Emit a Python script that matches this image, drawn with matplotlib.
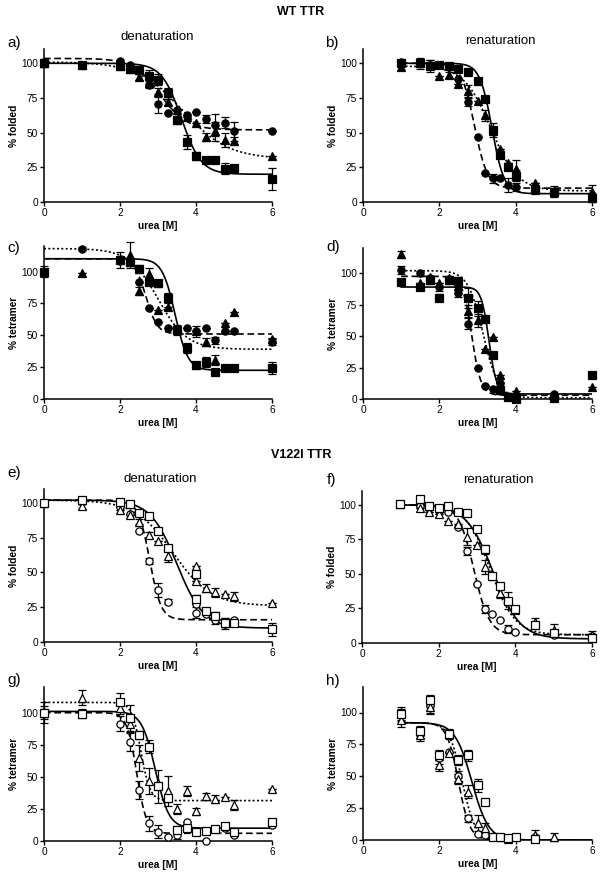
import numpy as np
import matplotlib
matplotlib.use("Agg")
import matplotlib.pyplot as plt

plt.rcParams["font.family"] = ["Liberation Sans", "DejaVu Sans"]

nan = np.nan

# ---- WT TTR, denaturation, % folded (a)
xa = [0, 1, 2, 2.25, 2.5, 2.75, 3, 3.25, 3.5, 3.75, 4, 4.25, 4.5, 4.75, 5, 6]
a_circ = [101, 99, 101.5, 99, 95, 84, 71, 64, 66, 63, 65, 59.6, 55.5, 57, 51, 51.5]
a_circ_err = [0, 0, 1, 0, 0, 2, 7, 0, 0, 0, 0, 3, 8, 4, 7, 0]
a_tri = [100, 99, 98, 96, 90, 86, 79, 72, 66, 61.5, 57, 47, 51, 45, 44, 33.5]
a_tri_err = [0, 0, 0, 0, 2, 3, 3, 2, 0, 0, 0, 3, 7, 5, 3, 0]
a_sq = [100, 98.6, 98, 96, 95, 91, 88, 78.4, 59, 43, 33, 30, 30, 24, 24.5, 16.5]
a_sq_err = [3, 2, 2, 2, 3, 4, 4, 4, 3, 5, 3, 0, 0, 4, 0, 8]

# ---- WT TTR, renaturation, % folded (b)
xb = [1, 1.5, 1.75, 2, 2.25, 2.5, 2.75, 3, 3.2, 3.4, 3.6, 3.8, 4, 4.5, 5, 6]
b_circ = [100.7, 100, 99, 99, 97, 89, 72, 47, 21, 17, 17, 12, 11, 8.7, 6.7, 5]
b_circ_err = [0, 0, 0, 0, 0, 0, 3, 0, 0, 3, 0, 5, 3, 0, 0, 0]
b_tri = [97, 100, 99, 91, 91.5, 85, 80, 72.5, 62.5, 51, 38, 28, 24, 14, 7.5, 7.5]
b_tri_err = [2, 4, 3, 0, 2, 0, 4, 0, 4, 0, 0, 0, 6, 0, 4, 5]
b_sq = [100, 100, 98, 99, 98, 96, 94, 87, 74, 52, 34, 25, 19, 9.6, 7, 3]
b_sq_err = [0, 2, 4, 2, 0, 0, 0, 0, 0, 5, 0, 0, 4, 4, 3, 3]

# ---- WT TTR, denaturation, % tetramer (c)
xc = [0, 1, 2, 2.25, 2.5, 2.75, 3, 3.25, 3.5, 3.75, 4, 4.25, 4.5, 4.75, 5, 6]
c_circ = [100, 118, 108, 108, 92, 71, 60.5, 56, 54, 56, 53, 55.8, 46, 53, 53, 45]
c_circ_err = [0, 1, 0, 0, 0, 0, 0, 0, 0, 0, 4, 0, 3, 0, 0, 3]
c_tri = [100, 99, 110, 113, 84.5, 98, 70, 72, 55, nan, 53, 44.8, 30.6, 60, 68, 47]
c_tri_err = [0, 0, 0, 10, 3, 5, 0, 0, 0, 0, 0, 3, 4, 0, 0, 0]
c_sq = [100, nan, 109, 107.6, 102, 92, 90.6, 79.3, 54, 40, 26.4, 29, 21, 24.3, 24.3, 24.3]
c_sq_err = [4, 0, 6, 3, 3, 0, 3, 4, 4, 4, 3, 4, 0, 2, 0, 5]

# ---- WT TTR, renaturation, % tetramer (d)
xd = [1, 1.5, 1.75, 2, 2.25, 2.5, 2.75, 3, 3.2, 3.4, 3.6, 3.8, 4, 5, 6]
d_circ = [102.4, 100, 96, 89, 95, 84, 60, 25, 10, 8, 13, nan, 0, 4, nan]
d_circ_err = [3, 2, 0, 3, 0, 3, 4, 0, 0, 0, 0, 0, 2, 0, 0]
d_tri = [115, 92, 97, 92, 96, 90, 70, 62.6, 40, 49, 19, nan, 6, nan, 9.5]
d_tri_err = [3, 0, 0, 0, 0, 0, 5, 5, 0, 0, 0, 0, 0, 0, 0]
d_sq = [93, 89, 94.4, 80.6, 94.4, 93.6, 80.6, 72, 63.4, 34.7, 7, 1.6, 0, 0.8, 19]
d_sq_err = [0, 2, 3, 3, 3, 3, 8, 6, 0, 0, 3, 0, 0, 0, 0]

# ---- V122I TTR, denaturation, % folded (e)
xe = [0, 1, 2, 2.25, 2.5, 2.75, 3, 3.25, 4, 4, 4.25, 4.5, 4.75, 5, 6]
e_circ = [100, 101, 96.9, 92, 80, 58.4, 37.5, 29, 27, 21, 20.4, 15.7, 13, 16, nan]
e_circ_err = [0, 0, 0, 0, 0, 2, 5, 2, 0, 4, 0, 3, 4, 0, 0]
e_tri = [100, 97.6, 95, 91, 86.5, 77, 72.7, 61.5, 55, 43.5, 39, 35.6, 34.7, 32.8, 28]
e_tri_err = [0, 2, 0, 0, 2, 2, 0, 4, 0, 0, 3, 3, 0, 3, 0]
e_sq = [100, 102.4, 100.7, 99.5, 93, 90.5, 80, 67.5, 49, 31, 22, 18.5, 14, 13.5, 9]
e_sq_err = [0, 1, 0, 0, 0, 0, 0, 2, 2, 3, 2, 3, 3, 0, 5]

# ---- V122I TTR, renaturation, % folded (f)
xf = [1, 1.5, 1.75, 2, 2.25, 2.5, 2.75, 3, 3.2, 3.4, 3.6, 3.8, 4, 4.5, 5, 6]
f_circ = [100.7, 99.3, 98, 95.7, 95, 83.7, 66.5, 42.6, 24.6, 20.8, 16.7, 10, 7.9, nan, 6, 5]
f_circ_err = [0, 0, 0, 0, 0, 0, 3, 0, 3, 0, 0, 3, 0, 0, 0, 0]
f_tri = [100.7, 98, 94.5, 93.3, 88.5, 86, 77, 70.6, 55, 48.3, 36.4, 30.6, 24, 15, 9.6, 6]
f_tri_err = [0, 0, 0, 0, 0, 0, 6, 0, 5, 0, 4, 6, 0, 3, 4, 3]
f_sq = [100.7, 104, 99.3, 97.6, 99.3, 94.5, 93.8, 82.5, 67.7, 48.6, 41.4, 30.6, 24.4, 13, 7, 3.6]
f_sq_err = [0, 0, 0, 0, 0, 0, 0, 0, 3, 0, 0, 0, 0, 0, 0, 3]

# ---- V122I TTR, denaturation, % tetramer (g)
xg = [0, 1, 2, 2.25, 2.5, 2.75, 3, 3.25, 3.5, 3.75, 4, 4.25, 4.5, 4.75, 5, 6]
g_circ = [100, 100, 91.4, 77.3, 40, 13.8, 7.3, 3, 4.7, 15, 8, 0, 9, 10, 4.7, 12.5]
g_circ_err = [8, 3, 6, 7, 7, 6, 5, 0, 3, 0, 0, 0, 0, 0, 0, 0]
g_tri = [100, 111.7, 104, 91, 64.7, 47, 45, 39, 25, 39, 23, 34.7, 33, 34, 28, 40.5]
g_tri_err = [5, 6, 5, 6, 10, 10, 0, 12, 4, 4, 3, 3, 3, 0, 4, 0]
g_sq = [100, 98.7, 108.6, 95.6, 82.5, 73.4, 42.6, 33.4, 8.6, 10, 7.3, 8, 9.4, 12, 6.8, 14.6]
g_sq_err = [3, 3, 7, 10, 3, 5, 13, 3, 3, 0, 0, 0, 2, 0, 0, 0]

# ---- V122I TTR, renaturation, % tetramer (h)
xh = [1, 1.5, 1.75, 2, 2.25, 2.5, 2.75, 3, 3.2, 3.4, 3.6, 3.8, 4, 4.5, 5]
h_circ = [98, 84, 105, 64, 69, 50.4, 17, 5, 4, 2, 2, 1, nan, 2, nan]
h_circ_err = [5, 4, 5, 4, 0, 4, 3, 0, 0, 0, 0, 0, 0, 0, 0]
h_tri = [94, 82.5, 104, 58.5, 68, 47.8, 38, 13.3, 9.4, 2.9, 2.5, 1, nan, 3.7, 2.6]
h_tri_err = [5, 5, 5, 4, 0, 4, 5, 6, 4, 0, 0, 0, 0, 4, 3]
h_sq = [99, 85.6, 110, 66.8, 83, 63, 66.3, 42.8, 29.8, 2.3, 2.3, 1.6, 2, 0.8, nan]
h_sq_err = [5, 4, 4, 4, 4, 4, 4, 5, 0, 0, 0, 0, 0, 2, 0]

# sigmoid fit parameters: (top, bottom, midpoint, slope)
fit_a = [(103.5, 52, 3.05, 0.35), (101, 31, 3.65, 0.6), (100, 20, 3.62, 0.26)]
fit_b = [(100, 10, 2.92, 0.17), (98, 8, 3.35, 0.35), (100, 6, 3.38, 0.16)]
fit_c = [(110, 51, 2.68, 0.15), (118, 39, 3.0, 0.38), (110, 22.5, 3.45, 0.17)]
fit_d = [(97.5, 3, 2.85, 0.12), (102, 1, 3.15, 0.2), (89, 4, 3.3, 0.1)]
fit_e = [(102, 16, 2.78, 0.15), (102, 26, 3.4, 0.5), (102, 10, 3.5, 0.35)]
fit_f = [(100, 6, 2.92, 0.2), (100, 6, 3.35, 0.32), (100, 3, 3.42, 0.35)]
fit_g = [(100, 6, 2.44, 0.13), (108, 31.5, 2.55, 0.12), (101, 10, 2.93, 0.18)]
fit_h = [(92, 0, 2.5, 0.15), (92, 0, 2.6, 0.17), (92, 0, 2.85, 0.22)]

W, H = 602, 874
fig = plt.figure(figsize=(W / 100, H / 100), dpi=100)

MARKERS = ["o", "^", "s"]
LINES = [(0, (4, 2.2)), (0, (1.2, 1.4)), "-"]


def make_ax(left, bottom_px, width, top_val, height_px):
    ax = fig.add_axes([left / W, 1 - bottom_px / H, width / W, height_px / H])
    ax.set_xlim(0, 6)
    ax.set_ylim(0, top_val)
    for s in ["top", "right"]:
        ax.spines[s].set_visible(False)
    for s in ["left", "bottom"]:
        ax.spines[s].set_linewidth(1.1)
    ax.set_xticks([0, 2, 4, 6])
    ax.set_yticks([0, 25, 50, 75, 100])
    ax.tick_params(direction="out", length=3, width=1, labelsize=7.3, pad=1.5)
    ax.set_xlabel("urea [M]", fontsize=7.3, fontweight="bold", labelpad=2)
    return ax


def draw(ax, x, series, errs, fits, x0, filled, ylabel):
    x = np.array(x, dtype=float)
    for i in range(3):
        top, bot, mid, slope = fits[i]
        xs = np.linspace(x0, 6, 400)
        ys = bot + (top - bot) / (1 + np.exp((xs - mid) / slope))
        ax.plot(xs, ys, color="black", lw=1.2, linestyle=LINES[i], zorder=2)
    for i in range(3):
        y = np.array(series[i], dtype=float)
        e = np.array(errs[i], dtype=float)
        ax.errorbar(x, y, yerr=e, fmt="none", ecolor="black", elinewidth=0.9,
                    capsize=2.6, capthick=0.9, zorder=3, clip_on=False)
        ax.plot(x, y, linestyle="none", marker=MARKERS[i], ms=5.2 if i != 1 else 5.6,
                mfc="black" if filled else "white", mec="black", mew=0.9,
                zorder=4, clip_on=False)
    ax.set_ylabel(ylabel, fontsize=7.3, fontweight="bold", labelpad=1)


LEFT_L, WID_L = 44, 228
LEFT_R, WID_R = 363, 229

ax_a = make_ax(LEFT_L, 202, WID_L, 110, 152.6)
draw(ax_a, xa, [a_circ, a_tri, a_sq], [a_circ_err, a_tri_err, a_sq_err], fit_a, 0, True, "% folded")
ax_b = make_ax(LEFT_R, 202, WID_R, 110, 152.6)
draw(ax_b, xb, [b_circ, b_tri, b_sq], [b_circ_err, b_tri_err, b_sq_err], fit_b, 1, True, "% folded")
ax_c = make_ax(LEFT_L, 399, WID_L, 120, 153)
draw(ax_c, xc, [c_circ, c_tri, c_sq], [c_circ_err, c_tri_err, c_sq_err], fit_c, 0, True, "% tetramer")
ax_d = make_ax(LEFT_R, 399, WID_R, 120, 151)
draw(ax_d, xd, [d_circ, d_tri, d_sq], [d_circ_err, d_tri_err, d_sq_err], fit_d, 1, True, "% tetramer")
ax_e = make_ax(LEFT_L, 642, WID_L, 110, 153)
draw(ax_e, xe, [e_circ, e_tri, e_sq], [e_circ_err, e_tri_err, e_sq_err], fit_e, 0, False, "% folded")
ax_f = make_ax(LEFT_R - 1, 643, WID_R + 1, 110, 152)
draw(ax_f, xf, [f_circ, f_tri, f_sq], [f_circ_err, f_tri_err, f_sq_err], fit_f, 1, False, "% folded")
ax_g = make_ax(LEFT_L, 841, WID_L, 120, 154)
draw(ax_g, xg, [g_circ, g_tri, g_sq], [g_circ_err, g_tri_err, g_sq_err], fit_g, 0, False, "% tetramer")
ax_h = make_ax(LEFT_R, 840, WID_R, 120, 153)
draw(ax_h, xh, [h_circ, h_tri, h_sq], [h_circ_err, h_tri_err, h_sq_err], fit_h, 1, False, "% tetramer")


def ftext(xp, yp, s, **kw):
    fig.text(xp / W, 1 - yp / H, s, ha="center", va="center", **kw)


ftext(301, 12, "WT TTR", fontsize=9, fontweight="bold")
ftext(301, 455, "V122I TTR", fontsize=9, fontweight="bold")
ftext(157, 37, "denaturation", fontsize=9.5)
ftext(500, 41, "renaturation", fontsize=9.5)
ftext(160, 479, "denaturation", fontsize=9.5)
ftext(498, 480, "renaturation", fontsize=9.5)

for lab, xp, yp in [("a)", 14, 43), ("b)", 332, 43), ("c)", 14, 248), ("d)", 333, 247),
                    ("e)", 14, 473), ("f)", 332, 480), ("g)", 14, 680), ("h)", 333, 681)]:
    ftext(xp, yp, lab, fontsize=11)

fig.savefig("out.png", dpi=100)
